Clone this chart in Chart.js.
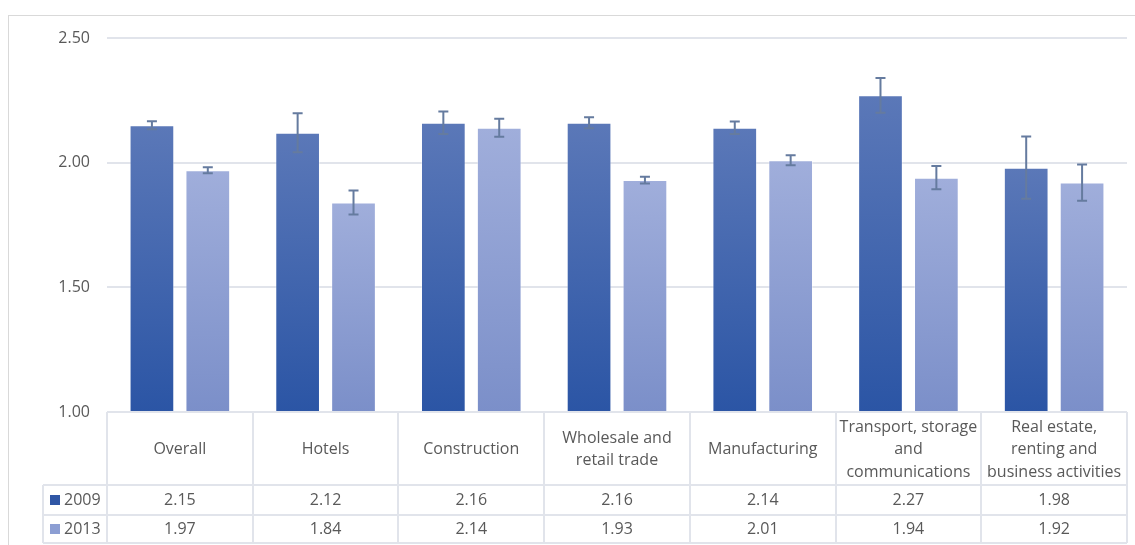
<!DOCTYPE html>
<html>
<head>
<meta charset="utf-8">
<title>Mean scores 2009 and 2013</title>
<script src="https://cdn.jsdelivr.net/npm/chart.js@4/dist/chart.umd.min.js"></script>
<style>
  body { margin: 0; background: #fff; }
  #wrap { position: relative; width: 1135px; height: 545px; overflow: hidden; }
  #frame { position: absolute; left: 8px; top: 15px; width: 1200px; height: 600px; border: 1px solid #d9d9d9; }
  canvas { position: absolute; left: 0; top: 0; }
</style>
</head>
<body>
<div id="wrap">
  <div id="frame"></div>
  <canvas id="meanChart" width="1135" height="545"></canvas>
</div>
<script>
const categories = [
  ["Overall"],
  ["Hotels"],
  ["Construction"],
  ["Wholesale and", "retail trade"],
  ["Manufacturing"],
  ["Transport, storage", "and", "communications"],
  ["Real estate,", "renting and", "business activities"],
];
const years = ["2009", "2013"];
const values2009 = [2.15, 2.12, 2.16, 2.16, 2.14, 2.27, 1.98];
const values2013 = [1.97, 1.84, 2.14, 1.93, 2.01, 1.94, 1.92];
// half-length of the error bars
const errors2009 = [0.016, 0.078, 0.045, 0.022, 0.025, 0.07, 0.125];
const errors2013 = [0.012, 0.048, 0.036, 0.014, 0.02, 0.047, 0.073];
const yTicks = [1.0, 1.5, 2.0, 2.5];

const textColor = "#595959";
const lineColor = "#e1e4eb";

Chart.defaults.font.family = "'Open Sans', sans-serif";
Chart.defaults.font.size = 16;
Chart.defaults.color = textColor;

function barGradient(context, topColor, bottomColor) {
  const chart = context.chart;
  if (context.type !== "data" || !chart.chartArea || !chart.scales.y) {
    return bottomColor;
  }
  const y = chart.scales.y;
  const top = y.getPixelForValue(context.raw);
  const bottom = y.getPixelForValue(y.min);
  const g = chart.ctx.createLinearGradient(0, top, 0, bottom);
  g.addColorStop(0, topColor);
  g.addColorStop(1, bottomColor);
  return g;
}

const errorBars = {
  id: "errorBars",
  afterDatasetsDraw(chart) {
    const ctx = chart.ctx;
    const y = chart.scales.y;
    ctx.save();
    ctx.strokeStyle = "#657b9f";
    ctx.lineWidth = 2;
    chart.data.datasets.forEach((ds, i) => {
      const meta = chart.getDatasetMeta(i);
      meta.data.forEach((bar, j) => {
        const v = ds.data[j];
        const e = ds.errors[j];
        const yHi = y.getPixelForValue(v + e);
        const yLo = y.getPixelForValue(v - e);
        ctx.beginPath();
        ctx.moveTo(bar.x, yHi);
        ctx.lineTo(bar.x, yLo);
        ctx.moveTo(bar.x - 5, yHi);
        ctx.lineTo(bar.x + 5, yHi);
        ctx.moveTo(bar.x - 5, yLo);
        ctx.lineTo(bar.x + 5, yLo);
        ctx.stroke();
      });
    });
    ctx.restore();
  },
};

// data table under the plot, columns follow the x scale
const dataTable = {
  id: "dataTable",
  afterDraw(chart) {
    const ctx = chart.ctx;
    const x = chart.scales.x;
    const area = chart.chartArea;
    const n = chart.data.labels.length;
    const colW = (x.right - x.left) / n;
    const top = area.bottom;
    const row1 = top + 73;
    const row2 = row1 + 30;
    const bottom = row2 + 28;
    const keyLeft = 43;

    ctx.save();
    ctx.strokeStyle = lineColor;
    ctx.lineWidth = 2;
    ctx.beginPath();
    ctx.moveTo(x.left, top);
    ctx.lineTo(x.right, top);
    [row1, row2, bottom].forEach((yy) => {
      ctx.moveTo(keyLeft, yy);
      ctx.lineTo(x.right, yy);
    });
    for (let i = 0; i <= n; i++) {
      const xx = Math.round(x.left + i * colW);
      ctx.moveTo(xx, top);
      ctx.lineTo(xx, bottom);
    }
    ctx.moveTo(keyLeft, row1);
    ctx.lineTo(keyLeft, bottom);
    ctx.stroke();

    ctx.fillStyle = textColor;
    ctx.font = "16px 'Open Sans', sans-serif";
    ctx.textAlign = "center";
    ctx.textBaseline = "middle";
    const lineH = 22.5;
    chart.data.labels.forEach((lines, i) => {
      const cx = x.getPixelForValue(i);
      const cy = (top + row1) / 2 + 1 - ((lines.length - 1) * lineH) / 2;
      lines.forEach((t, k) => ctx.fillText(t, cx, cy + k * lineH));
    });

    const rows = [(row1 + row2) / 2, (row2 + bottom) / 2];
    chart.data.datasets.forEach((ds, d) => {
      ds.data.forEach((v, i) => {
        ctx.fillText(v.toFixed(2), x.getPixelForValue(i), rows[d]);
      });
      ctx.fillStyle = ds.keyColor;
      ctx.fillRect(50, Math.round(rows[d] - 5), 10, 10);
      ctx.fillStyle = textColor;
      ctx.textAlign = "left";
      ctx.fillText(ds.label, 64, rows[d]);
      ctx.textAlign = "center";
    });
    ctx.restore();
  },
};

new Chart(document.getElementById("meanChart"), {
  type: "bar",
  data: {
    labels: categories,
    datasets: [
      {
        label: years[0],
        data: values2009,
        errors: errors2009,
        keyColor: "#2f56a5",
        backgroundColor: (c) => barGradient(c, "#5b78b8", "#2b55a5"),
        borderColor: "rgba(255,255,255,0.35)",
        borderWidth: 1,
      },
      {
        label: years[1],
        data: values2013,
        errors: errors2013,
        keyColor: "#8c9ed3",
        backgroundColor: (c) => barGradient(c, "#a0aedb", "#7b8fc9"),
        borderColor: "rgba(255,255,255,0.35)",
        borderWidth: 1,
      },
    ],
  },
  options: {
    responsive: false,
    animation: false,
    devicePixelRatio: 1,
    categoryPercentage: 0.767,
    barPercentage: 0.8,
    layout: { padding: { top: 38, right: 8, bottom: 133, left: 0 } },
    plugins: {
      legend: { display: false },
      tooltip: { enabled: false },
    },
    scales: {
      x: {
        display: false,
      },
      y: {
        min: 1,
        max: 2.5,
        afterBuildTicks: (scale) => {
          scale.ticks = yTicks.map((v) => ({ value: v }));
        },
        afterFit: (scale) => {
          scale.width = 107;
        },
        ticks: {
          padding: 17,
          callback: (v) => Number(v).toFixed(2),
        },
        grid: { color: lineColor, lineWidth: 2, drawTicks: false },
        border: { display: false },
      },
    },
  },
  plugins: [errorBars, dataTable],
});
</script>
</body>
</html>
